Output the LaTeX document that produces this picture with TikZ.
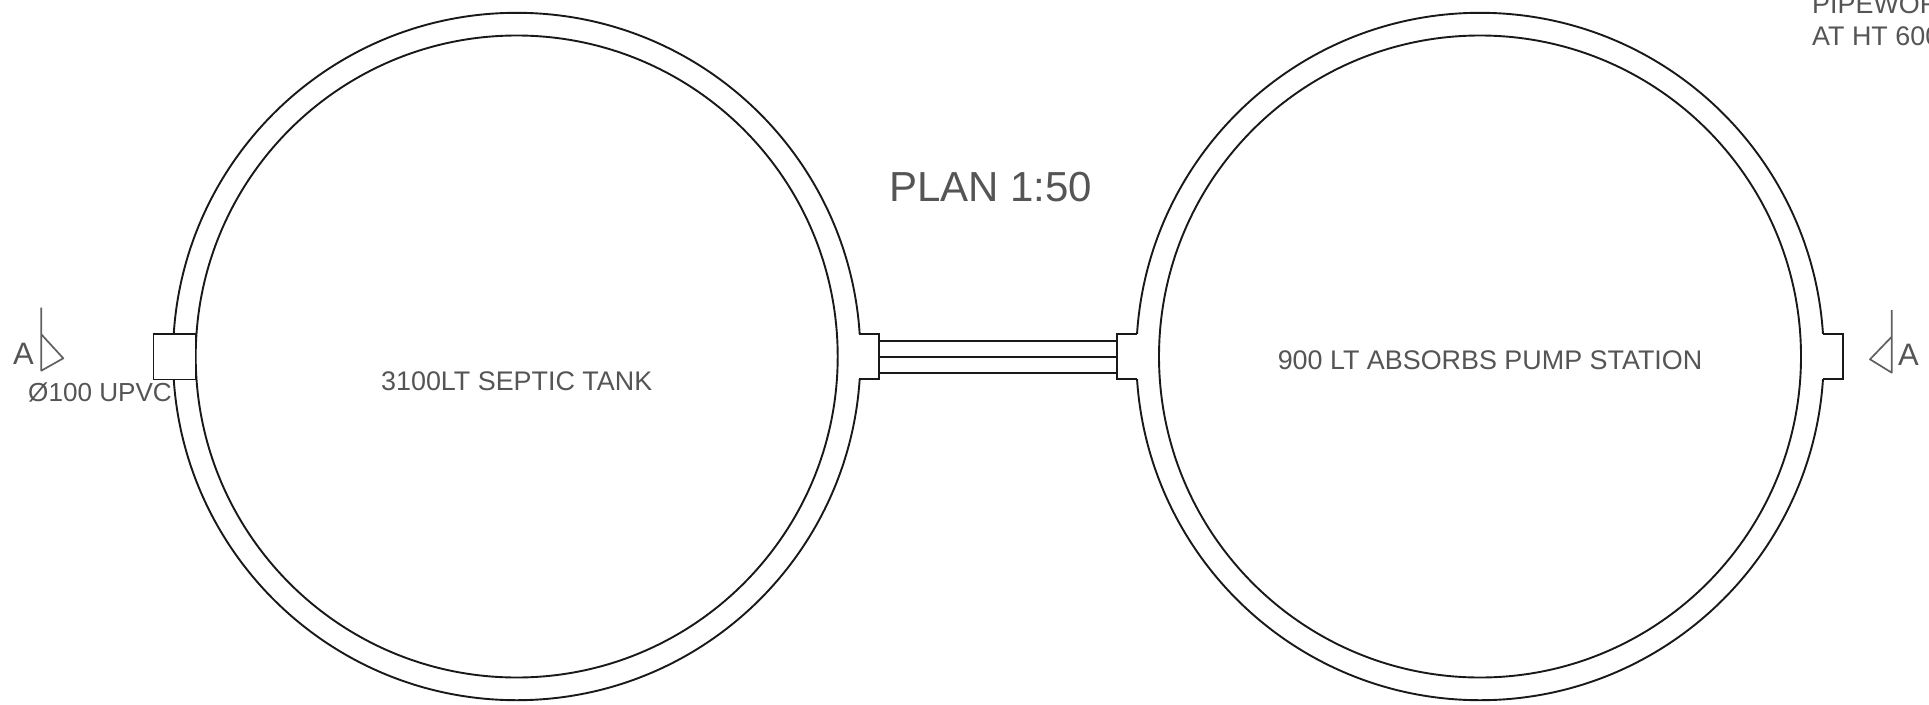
\documentclass[tikz,border=0pt]{standalone}
\usepackage{fontspec}
\setmainfont{Liberation Sans}
\definecolor{txt}{HTML}{555555}
\definecolor{mk}{HTML}{606060}
\tikzset{
  x=1pt,y=-1pt,
  wall/.style={draw=black!90,line width=1.9pt},
  cut/.style={draw=mk,line width=1.7pt,line join=round},
  label27/.style={font=\fontsize{26.9}{27}\selectfont,text=txt,inner sep=0pt},
  labelpipe/.style={font=\fontsize{26.1}{27}\selectfont,text=txt,inner sep=0pt},
  label42/.style={font=\fontsize{42}{42}\selectfont,text=txt,inner sep=0pt},
  labelA/.style={font=\fontsize{31}{31}\selectfont,text=txt,inner sep=0pt},
}
\begin{document}
\begin{tikzpicture}
\path[use as bounding box] (0,0) rectangle (1929,704);
\clip (0,0) rectangle (1929,704);
\fill[white] (0,0) rectangle (1929,704);
% tanks
\coordinate (tankL) at (516.7,356.5);
\coordinate (tankR) at (1480,356.5);
\draw[wall] (tankL) circle[radius=343.7];
\draw[wall] (tankL) circle[radius=321];
\draw[wall] (tankR) circle[radius=343.7];
\draw[wall] (tankR) circle[radius=321];
% inlet stub
\node[wall,fill=white,minimum width=42pt,minimum height=45.6pt,inner sep=0pt,anchor=west] (inlet) at (152.5,356.7) {};
% flanges
\coordinate (fa1) at (859.3,334); \coordinate (fa2) at (879.3,334);
\coordinate (fa3) at (879.3,379.4); \coordinate (fa4) at (859.3,379.4);
\fill[white] (850,334) rectangle (879.3,379.4);
\draw[wall,line join=miter] (fa1) -- (fa2) -- (fa3) -- (fa4);
\coordinate (fb1) at (1136.7,334); \coordinate (fb2) at (1116.7,334);
\coordinate (fb3) at (1116.7,379.4); \coordinate (fb4) at (1136.7,379.4);
\fill[white] (1146,334) rectangle (1116.7,379.4);
\draw[wall,line join=miter] (fb1) -- (fb2) -- (fb3) -- (fb4);
\coordinate (fc1) at (1823.3,334); \coordinate (fc2) at (1842.7,334);
\coordinate (fc3) at (1842.7,379.4); \coordinate (fc4) at (1823.3,379.4);
\fill[white] (1815,334) rectangle (1842.7,379.4);
\draw[wall,line join=miter] (fc1) -- (fc2) -- (fc3) -- (fc4);
% pipes
\foreach \yy in {340.7,356.7,372.7}{
  \coordinate (pa) at (879.3,\yy); \coordinate (pb) at (1116.7,\yy);
  \draw[wall] (pa) -- (pb);
}
% section marks
\coordinate (sa1) at (41.3,307.7); \coordinate (sa2) at (41.3,370.7);
\coordinate (sa3) at (63.3,358.3); \coordinate (sa4) at (41.3,334.3);
\draw[cut] (sa1) -- (sa2) -- (sa3) -- (sa4);
\coordinate (sb1) at (1891.7,310); \coordinate (sb2) at (1891.7,372.7);
\coordinate (sb3) at (1870,359.3); \coordinate (sb4) at (1891.7,336.7);
\draw[cut] (sb1) -- (sb2) -- (sb3) -- (sb4);
% labels
\node[labelA,anchor=base west] (la) at (13,364) {A};
\node[labelA,anchor=base west] (lb) at (1898,365) {A};
\node[labelpipe,anchor=base west] (pipe) at (28,401) {Ø100 UPVC};
\node[label42,anchor=base] (plan) at (990.7,201) {PLAN 1:50};
\node[label27,anchor=base] (septic) at (516.7,390.7) {3100LT SEPTIC TANK};
\node[label27,anchor=base] (pump) at (1490,369.3) {900 LT ABSORBS PUMP STATION};
\node[label27,anchor=base west] (noteA) at (1812,13) {PIPEWORK};
\node[label27,anchor=base west] (noteB) at (1812,45) {AT HT 600};
\end{tikzpicture}
\end{document}
